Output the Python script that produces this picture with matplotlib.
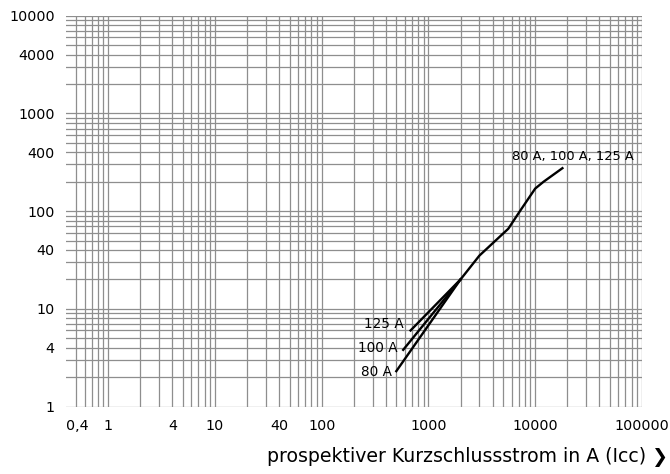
#!/usr/bin/env python3

import matplotlib
matplotlib.use("Agg")
import matplotlib.pyplot as plt
from matplotlib.ticker import FixedLocator, LogLocator, NullFormatter

plt.rcParams["font.family"] = ["DejaVu Sans"]

# common part of the characteristic
common_x = [2000, 3000, 5600, 7200, 10000, 12000, 18000]
common_y = [20, 35, 66, 100, 170, 200, 275]

# separate starting branches per rating
ratings = ["80 A", "100 A", "125 A"]
start_x = [500, 580, 680]
start_y = [2.3, 3.8, 6.0]

xticks = [0.4, 1, 4, 10, 40, 100, 1000, 10000, 100000]
xticklabels = ["0,4", "1", "4", "10", "40", "100", "1000", "10000", "100000"]
yticks = [1, 4, 10, 40, 100, 400, 1000, 4000, 10000]
yticklabels = ["1", "4", "10", "40", "100", "400", "1000", "4000", "10000"]

grid_col = "#8e8e8e"
lw = 1.7

fig = plt.figure(figsize=(6.7, 4.74), dpi=100)
ax = fig.add_axes([0.0981, 0.1424, 0.860, 0.8245])
ax.set_xscale("log")
ax.set_yscale("log")
ax.set_xlim(0.4, 100000)
ax.set_ylim(1, 10000)

for s in ax.spines.values():
    s.set_visible(False)

# grid, drawn by hand so that the 0.4 edge has no line
xgrid = [m * 10.0 ** e for e in range(-1, 5) for m in range(1, 10)]
xgrid = [v for v in xgrid if 0.45 < v <= 100000] + [100000]
ygrid = [m * 10.0 ** e for e in range(0, 4) for m in range(1, 10)] + [10000]
for v in xgrid:
    ax.axvline(v, color=grid_col, lw=0.9, zorder=1)
for v in ygrid:
    ax.axhline(v, color=grid_col, lw=0.9, zorder=1)

ax.xaxis.set_major_locator(FixedLocator(xticks))
ax.set_xticklabels(xticklabels)
ax.yaxis.set_major_locator(FixedLocator(yticks))
ax.set_yticklabels(yticklabels)
ax.xaxis.set_minor_locator(LogLocator(subs="all"))
ax.xaxis.set_minor_formatter(NullFormatter())
ax.yaxis.set_minor_locator(LogLocator(subs="all"))
ax.yaxis.set_minor_formatter(NullFormatter())
ax.tick_params(which="both", length=0, labelsize=10.3)
ax.tick_params(axis="x", pad=9)
ax.tick_params(axis="y", pad=8)
ax.get_xticklabels()[0].set_horizontalalignment("left")

# curves
ax.plot(common_x, common_y, color="black", lw=lw, zorder=3,
        solid_joinstyle="round")
lab_dx = [0.91, 0.88, 0.87]
lab_dy = [0.98, 1.04, 1.17]
for name, sx, sy, fx, fy in zip(ratings, start_x, start_y, lab_dx, lab_dy):
    ax.plot([sx, common_x[0]], [sy, common_y[0]], color="black", lw=lw,
            zorder=3)
    ax.text(sx * fx, sy * fy, name, ha="right", va="center", fontsize=9.8,
            zorder=4)

ax.text(84000, 365, "80 A, 100 A, 125 A", ha="right", va="center",
        fontsize=9.4)

fig.text(668 / 670, 1 - 457 / 474,
         "prospektiver Kurzschlussstrom in A (Icc) \u276f",
         ha="right", va="center", fontsize=13.6)

fig.savefig("out.png", dpi=100)
